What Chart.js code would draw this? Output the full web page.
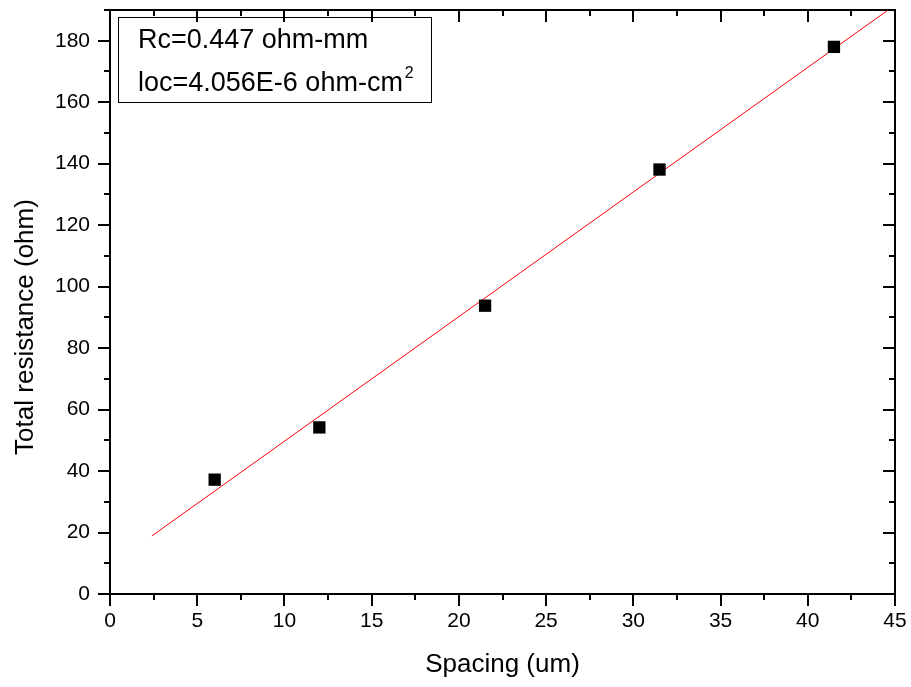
<!DOCTYPE html>
<html>
<head>
<meta charset="utf-8">
<script src="https://cdn.jsdelivr.net/npm/chart.js@4.4.1/dist/chart.umd.min.js"></script>
<style>
  html, body { margin: 0; padding: 0; background: #fff; }
  canvas { display: block; }
</style>
</head>
<body>
<canvas id="resChart" width="911" height="687"></canvas>
<script>
// measured points
const spacing = [6, 12, 21.5, 31.5, 41.5];
const resistance = [37.2, 54.2, 93.8, 138.1, 178];

// linear fit, end points
const fitX = [2.4, 45];
const fitY = [18.9, 191.6];

const xTicks = [0, 5, 10, 15, 20, 25, 30, 35, 40, 45];
const yTicks = [0, 20, 40, 60, 80, 100, 120, 140, 160, 180];

const fontFamily = "'Liberation Sans', Arial, sans-serif";

// frame, minor/major ticks, axis titles and the text box
const framePlugin = {
  id: "frame",
  beforeDraw(chart) {
    const ctx = chart.ctx;
    ctx.save();
    ctx.fillStyle = "#fff";
    ctx.fillRect(0, 0, chart.width, chart.height);
    ctx.restore();
  },
  afterDraw(chart) {
    const ctx = chart.ctx;
    const a = chart.chartArea;
    const xs = chart.scales.x;
    const ys = chart.scales.y;
    ctx.save();
    ctx.strokeStyle = "#000";
    ctx.lineWidth = 2;
    ctx.strokeRect(a.left, a.top, a.right - a.left, a.bottom - a.top);

    // x ticks: out at bottom, in at top
    for (let v = 0; v <= 45; v += 2.5) {
      const px = Math.round(xs.getPixelForValue(v));
      const len = v % 5 === 0 ? 12 : 6;
      ctx.beginPath();
      ctx.moveTo(px, a.bottom);
      ctx.lineTo(px, a.bottom + len);
      ctx.moveTo(px, a.top);
      ctx.lineTo(px, a.top + len);
      ctx.stroke();
    }
    // y ticks: out at left, in at right
    for (let v = 0; v <= 190; v += 10) {
      const py = Math.round(ys.getPixelForValue(v));
      const len = v % 20 === 0 ? 12 : 6;
      ctx.beginPath();
      ctx.moveTo(a.left, py);
      ctx.lineTo(a.left - len, py);
      ctx.moveTo(a.right, py);
      ctx.lineTo(a.right - len, py);
      ctx.stroke();
    }

    // axis titles
    ctx.fillStyle = "#000";
    ctx.font = "26px " + fontFamily;
    ctx.textAlign = "center";
    ctx.textBaseline = "alphabetic";
    ctx.fillText("Spacing (um)", (a.left + a.right) / 2, 672);
    ctx.save();
    ctx.translate(33, 327);
    ctx.rotate(-Math.PI / 2);
    ctx.fillText("Total resistance (ohm)", 0, 0);
    ctx.restore();

    // result box
    const bx = a.left + 8, by = a.top + 7;
    ctx.lineWidth = 1;
    ctx.strokeRect(bx + 0.5, by + 0.5, 313, 85);
    ctx.textAlign = "left";
    ctx.font = "27px " + fontFamily;
    ctx.fillText("Rc=0.447 ohm-mm", bx + 20, by + 31);
    const line2 = "loc=4.056E-6 ohm-cm";
    ctx.fillText(line2, bx + 20, by + 74);
    const w = ctx.measureText(line2).width;
    ctx.font = "16px " + fontFamily;
    ctx.fillText("2", bx + 22 + w, by + 61);
    ctx.restore();
  }
};

const ctx = document.getElementById("resChart").getContext("2d");

const chart = new Chart(ctx, {
  type: "scatter",
  data: {
    datasets: [
      {
        label: "fit",
        type: "line",
        data: fitX.map((x, i) => ({ x: x, y: fitY[i] })),
        borderColor: "#ff0000",
        borderWidth: 1,
        pointRadius: 0,
        fill: false,
        order: 2
      },
      {
        label: "data",
        data: spacing.map((x, i) => ({ x: x, y: resistance[i] })),
        pointStyle: "rect",
        pointRadius: 8.7,
        backgroundColor: "#000",
        borderColor: "#000",
        borderWidth: 0,
        order: 1
      }
    ]
  },
  options: {
    responsive: false,
    animation: false,
    events: [],
    layout: {
      padding: { left: 0, right: 16, top: 10, bottom: 0 }
    },
    plugins: {
      legend: { display: false },
      tooltip: { enabled: false }
    },
    scales: {
      x: {
        type: "linear",
        min: 0,
        max: 45,
        afterBuildTicks: (scale) => {
          scale.ticks = xTicks.map((v) => ({ value: v }));
        },
        afterFit: (scale) => {
          scale.height = 93;
          scale.paddingLeft = 0;
          scale.paddingRight = 0;
        },
        grid: { display: false, drawTicks: false },
        border: { display: false },
        ticks: {
          color: "#000",
          padding: 15,
          maxRotation: 0,
          font: { family: fontFamily, size: 21 }
        }
      },
      y: {
        type: "linear",
        min: 0,
        max: 190,
        afterBuildTicks: (scale) => {
          scale.ticks = yTicks.map((v) => ({ value: v }));
        },
        afterFit: (scale) => {
          scale.width = 110;
          scale.paddingTop = 0;
          scale.paddingBottom = 0;
        },
        grid: { display: false, drawTicks: false },
        border: { display: false },
        ticks: {
          color: "#000",
          padding: 20,
          font: { family: fontFamily, size: 21 }
        }
      }
    }
  },
  plugins: [framePlugin]
});
</script>
</body>
</html>
